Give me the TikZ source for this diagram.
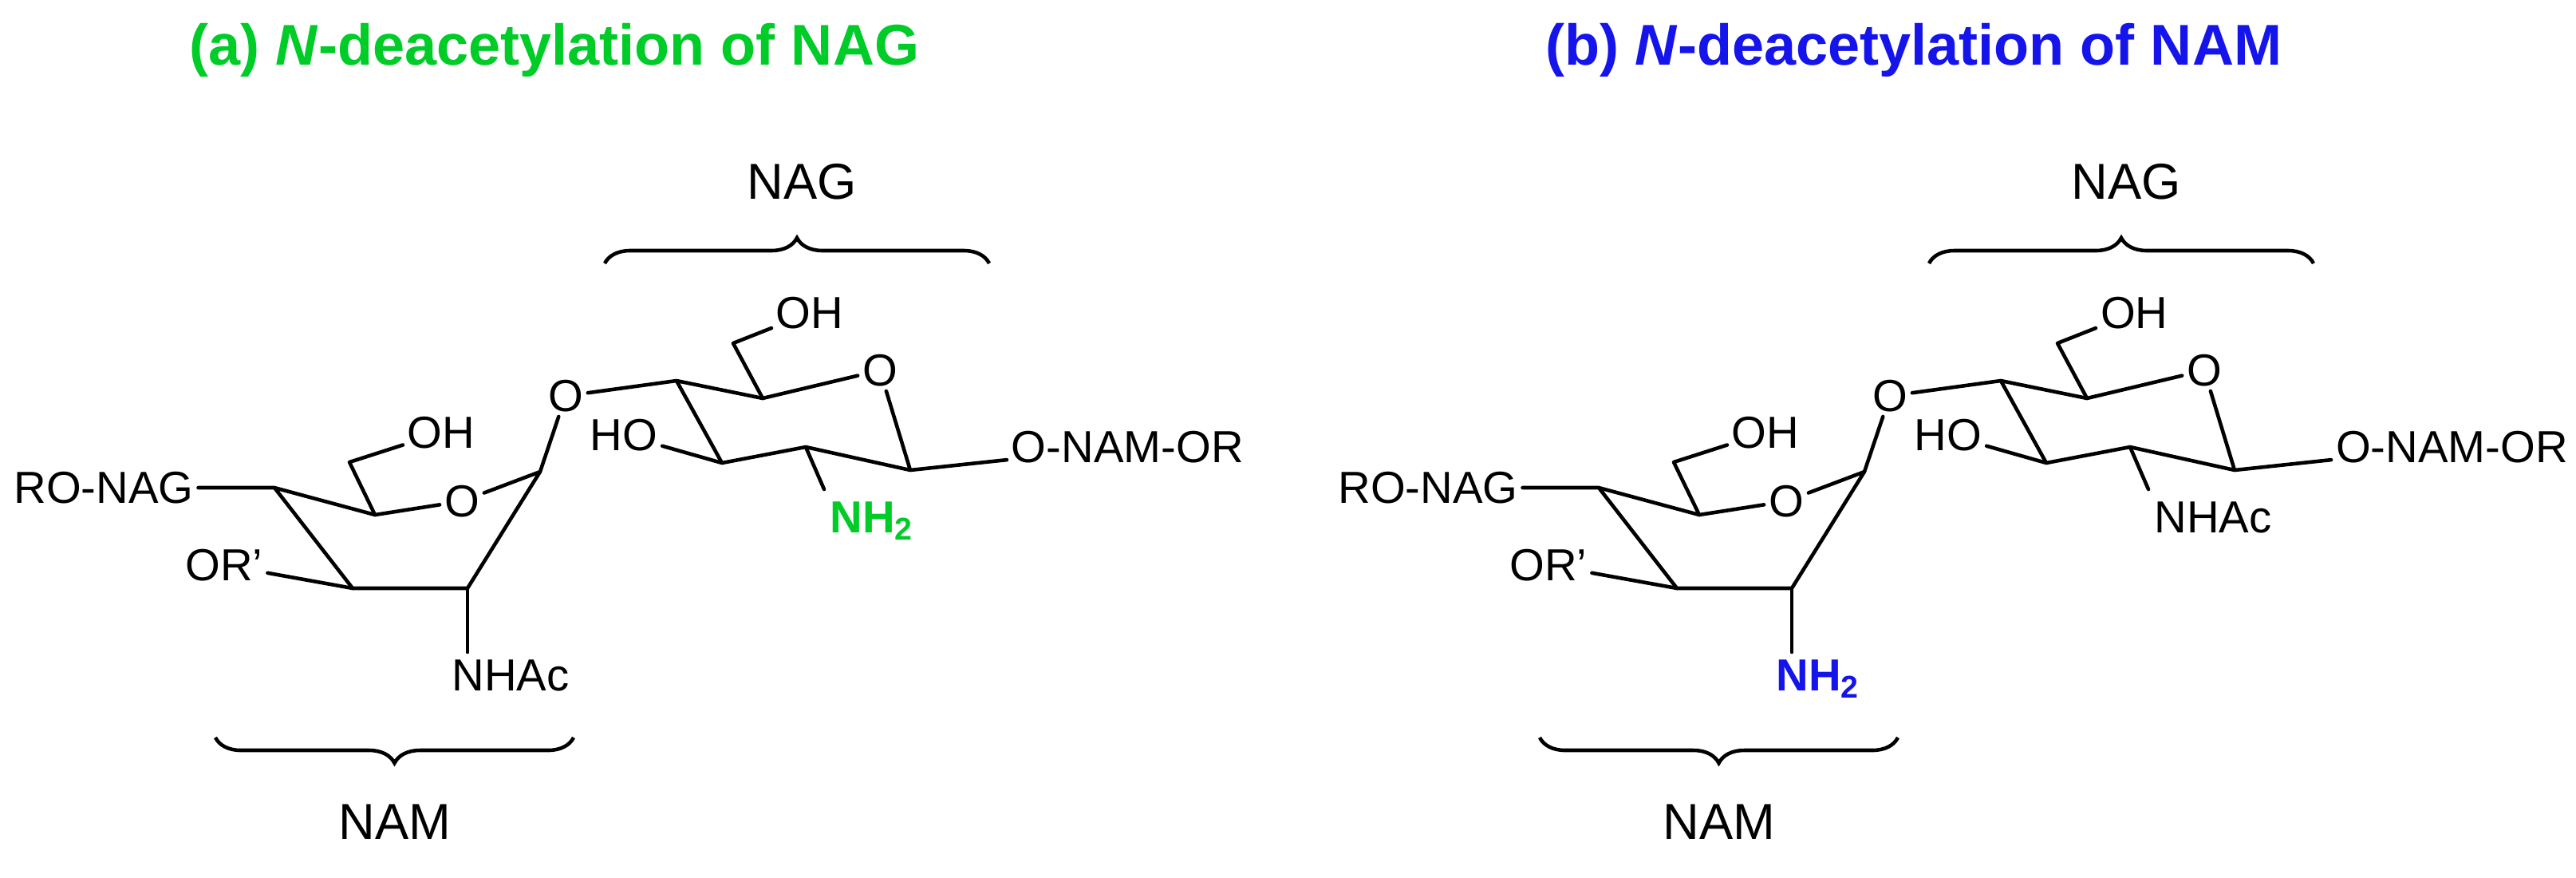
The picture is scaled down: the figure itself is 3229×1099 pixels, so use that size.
\documentclass[tikz,border=0pt]{standalone}
\usepackage{fontspec}
\setmainfont{Liberation Sans}
\usetikzlibrary{decorations.pathreplacing}
\definecolor{tgreen}{RGB}{0,204,40}
\definecolor{tblue}{RGB}{20,20,235}
\tikzset{
  bond/.style={line width=1.3pt, line cap=round, line join=round},
  atom/.style={inner sep=1.5pt, font=\fontsize{16}{18}\selectfont},
  lbl/.style={inner sep=0pt, font=\fontsize{18}{20}\selectfont},
  ttl/.style={inner sep=0pt, font=\fontsize{20.5}{24}\selectfont\bfseries},
  brc/.style={line width=1.3pt, decorate, decoration={brace, amplitude=0.32cm}},
}
\newcommand\sugarpair[4]{%
\begin{scope}[shift={(#1,0)}, name prefix=#2-]
  % NAM ring
  \coordinate (a4) at (344,611);
  \coordinate (a5) at (470,645);
  \coordinate (a1) at (677,591);
  \coordinate (a2) at (586,737);
  \coordinate (a3) at (442,737);
  \coordinate (a6) at (438,579);
  \coordinate (a2n) at (586,817);
  \node[atom] (aO) at (579,628) {O};
  \node[atom, anchor=west] (aOH) at (505,542) {OH};
  \node[atom] (rona) at (130,611) {RO-NAG};
  \node[atom] (orp) at (281,708) {OR\textquoteright};
  \node[atom, anchor=north west, inner sep=0pt] (asub) at (566,826) {#3};
  \node[atom] (gO) at (709,496) {O};
  % NAG ring
  \coordinate (b4) at (848,477);
  \coordinate (b5) at (956,499);
  \coordinate (b1) at (1141,589);
  \coordinate (b2) at (1010,560);
  \coordinate (b3) at (905,580);
  \coordinate (b6) at (919,430);
  \coordinate (b2n) at (1033,613);
  \node[atom] (bO) at (1103,464) {O};
  \node[atom, anchor=west] (bOH) at (967,392) {OH};
  \node[atom] (bHO) at (782,545) {HO};
  \node[atom, anchor=west] (onam) at (1262,560) {O-NAM-OR};
  \node[atom, anchor=north west, inner sep=0pt] (bsub) at (1040,628) {#4};
  % bonds
  \draw[bond] (rona) -- (a4) -- (a5) -- (aO) -- (a1) -- (a2) -- (a3) -- (a4);
  \draw[bond] (a5) -- (a6) -- (aOH);
  \draw[bond] (orp) -- (a3);
  \draw[bond] (a2) -- (a2n);
  \draw[bond] (a1) -- (gO) -- (b4);
  \draw[bond] (b4) -- (b5) -- (bO) -- (b1) -- (b2) -- (b3) -- (b4);
  \draw[bond] (b5) -- (b6) -- (bOH);
  \draw[bond] (bHO) -- (b3);
  \draw[bond] (b1) -- (onam);
  \draw[bond] (b2) -- (b2n);
  % braces and labels
  \coordinate (nagL) at (758,330);
  \coordinate (nagR) at (1240,330);
  \draw[brc] (nagL) -- (nagR);
  \node[lbl] (naglbl) at (1005,228) {NAG};
  \coordinate (namR) at (719,924);
  \coordinate (namL) at (270,924);
  \draw[brc] (namR) -- (namL);
  \node[lbl] (namlbl) at (495,1030) {NAM};
\end{scope}}
\begin{document}
\begin{tikzpicture}[x=0.01cm, y=-0.01cm]
\useasboundingbox (0,0) rectangle (3229,1099);
\node[ttl, text=tgreen] (ta) at (695,63) {(a) \textit{N}-deacetylation of NAG};
\node[ttl, text=tblue] (tb) at (2399,63) {(b) \textit{N}-deacetylation of NAM};
\sugarpair{0}{L}{NHAc}{\textcolor{tgreen}{\bfseries NH\textsubscript{2}}}
\sugarpair{1660}{R}{\textcolor{tblue}{\bfseries NH\textsubscript{2}}}{NHAc}
\end{tikzpicture}
\end{document}
